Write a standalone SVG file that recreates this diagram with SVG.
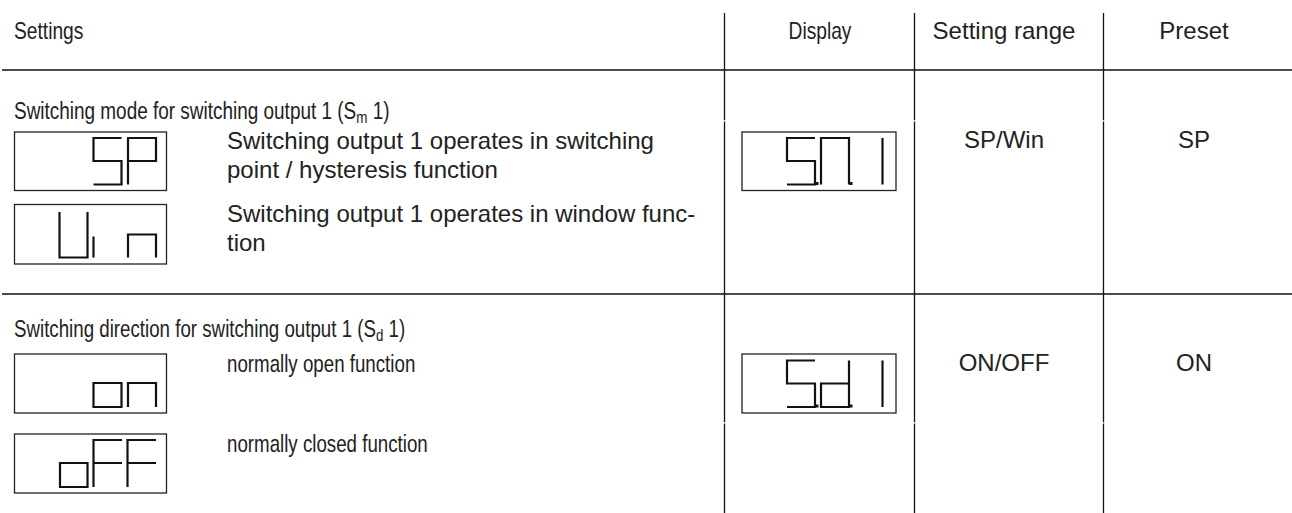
<svg xmlns="http://www.w3.org/2000/svg" width="1292" height="513" viewBox="0 0 1292 513">
<style>
text{font-family:"Liberation Sans",Arial,sans-serif;font-size:24px;fill:#222}
.c{text-anchor:middle}
.grid{stroke:#111;stroke-width:1.3;fill:none}
.box{stroke:#222;stroke-width:1.3;fill:#fff}
.seg{stroke:#111;stroke-width:2.2;fill:none;stroke-linejoin:miter;stroke-linecap:butt}
.dot{fill:#111}
</style>
<g id="grid" class="grid">
<line x1="2" y1="70" x2="1292" y2="70"/>
<line x1="2" y1="294" x2="1292" y2="294"/>
<path d="M724.5 13V120.2M724.5 121.4V422.2M724.5 423.4V513"/>
<path d="M914.5 13V120.2M914.5 121.4V422.2M914.5 423.4V513"/>
<path d="M1103.5 13V120.2M1103.5 121.4V422.2M1103.5 423.4V513"/>
</g>
<g id="header">
<text transform="translate(14 39) scale(0.8 1)">Settings</text>
<text class="c" transform="translate(820 39) scale(0.8 1)">Display</text>
<text class="c" x="1004" y="39">Setting range</text>
<text class="c" x="1194" y="39">Preset</text>
</g>
<g id="row-sm">
<text transform="translate(14 119) scale(0.79 1)">Switching mode for switching output 1 (S<tspan font-size="17" dy="4">m</tspan><tspan dy="-4"> 1)</tspan></text>
<g id="box-sp">
<rect class="box" x="14.5" y="132" width="152" height="58.5"/>
<path class="seg" d="M121.5 138H93.5V161H121.5V184.5H93.5M128 184.5V138H156V161H128"/>
</g>
<text x="227" y="148.5">Switching output 1 operates in switching</text>
<text x="227" y="177.5">point / hysteresis function</text>
<g id="box-win">
<rect class="box" x="14.5" y="204.5" width="152" height="59.5"/>
<path class="seg" d="M59.5 212V257.5H87.5V212M93.5 236.5V257.5M128 257.5V234.5H156V257.5"/>
</g>
<text x="227" y="222">Switching output 1 operates in window func-</text>
<text x="227" y="251">tion</text>
<g id="display-sm1">
<rect class="box" x="742" y="132" width="154" height="58.5"/>
<path class="seg" d="M815 138H787V161H815V184.5H787M821 184.5V138H849V184.5M882.5 138V184.5"/>
<rect class="dot" x="815.5" y="182" width="3" height="3"/>
<rect class="dot" x="849.5" y="182" width="3" height="3"/>
</g>
<text class="c" x="1004" y="148">SP/Win</text>
<text class="c" x="1194" y="148">SP</text>
</g>
<g id="row-sd">
<text transform="translate(14 337) scale(0.78 1)">Switching direction for switching output 1 (S<tspan font-size="17" dy="4">d</tspan><tspan dy="-4"> 1)</tspan></text>
<g id="box-on">
<rect class="box" x="14.5" y="354" width="152" height="59"/>
<path class="seg" d="M93.5 383H121.5V407H93.5ZM128 407V383H156V407"/>
</g>
<text transform="translate(227 372) scale(0.78 1)">normally open function</text>
<g id="box-off">
<rect class="box" x="14.5" y="434" width="152" height="59"/>
<path class="seg" d="M60 463H87.5V487H60ZM93.5 487V440H122M93.5 463H122M127.5 487V440H156M127.5 463H156"/>
</g>
<text transform="translate(227 452) scale(0.78 1)">normally closed function</text>
<g id="display-sd1">
<rect class="box" x="742" y="354" width="154" height="59"/>
<path class="seg" d="M815 360.5H787V383.5H815V407H787M849 360.5V407H821V383.5H849M882.5 360.5V407"/>
<rect class="dot" x="815.5" y="404.5" width="3" height="3"/>
<rect class="dot" x="849.5" y="404.5" width="3" height="3"/>
</g>
<text class="c" x="1004" y="371">ON/OFF</text>
<text class="c" x="1194" y="371">ON</text>
</g>
</svg>
